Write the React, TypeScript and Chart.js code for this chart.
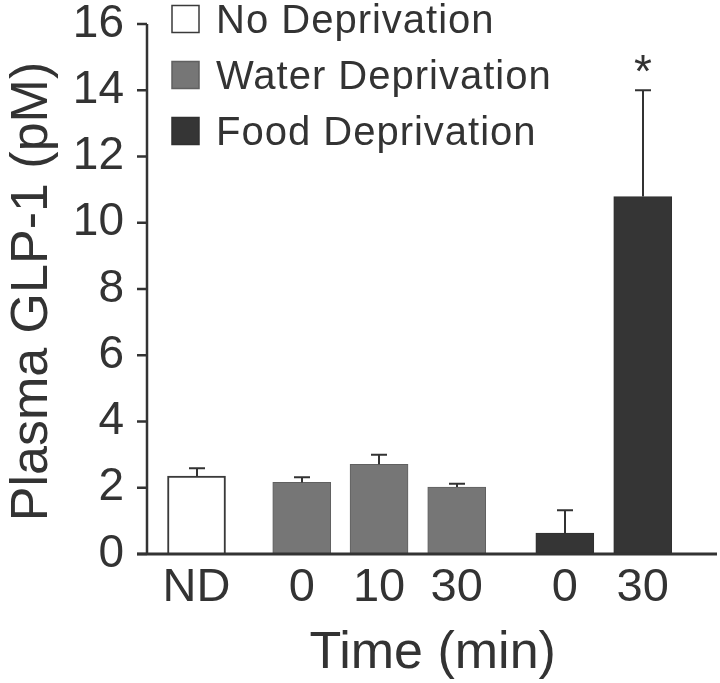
import React, { useEffect, useRef } from 'react';
import { Chart, registerables } from 'chart.js';

Chart.register(...registerables);

// ---- data ----
const categories = ['ND', '0', '10', '30', '0', '30'];
const groups = ['No Deprivation', 'Water Deprivation', 'Food Deprivation'];
const groupOfBar = [0, 1, 1, 1, 2, 2];
const xSlots = [0, 1.356, 2.352, 3.353, 4.746, 5.75];
const means = [2.35, 2.16, 2.71, 2.02, 0.63, 10.79];
const upperErr = [2.59, 2.32, 3.0, 2.12, 1.32, 14.0];
const significance = ['', '', '', '', '', '*'];
const yTicks = [0, 2, 4, 6, 8, 10, 12, 14, 16];
const yTitle = 'Plasma GLP-1 (pM)';
const xTitle = 'Time (min)';

// ---- styling ----
const X_MIN = -0.638;
const X_MAX = 6.707;
const FONT = "'Liberation Sans', Arial, Helvetica, sans-serif";
const INK = '#333333';
const groupColors = ['#ffffff', '#767676', '#353535'];
const groupBorders = ['#3a3a3a', '#606060', '#303030'];

const overlayPlugin = {
  id: 'overlay',
  afterDatasetsDraw(chart: any) {
    const { ctx, chartArea } = chart;
    const xs = chart.scales.x;
    const ys = chart.scales.y;
    ctx.save();
    ctx.strokeStyle = INK;
    ctx.fillStyle = INK;

    // error bars (upper only)
    ctx.lineWidth = 2;
    means.forEach((m, i) => {
      const px = Math.round(xs.getPixelForValue(xSlots[i]));
      const top = ys.getPixelForValue(m);
      const e = ys.getPixelForValue(upperErr[i]);
      ctx.beginPath();
      ctx.moveTo(px, top);
      ctx.lineTo(px, e);
      ctx.moveTo(px - 8, e);
      ctx.lineTo(px + 8, e);
      ctx.stroke();
      if (significance[i]) {
        ctx.font = `46px ${FONT}`;
        ctx.textAlign = 'center';
        ctx.textBaseline = 'alphabetic';
        ctx.fillText(significance[i], px, e - 3);
      }
    });

    // axes
    const left = chartArea.left;
    const y0 = ys.getPixelForValue(0);
    const yTop = ys.getPixelForValue(16);
    ctx.lineWidth = 2.5;
    ctx.beginPath();
    ctx.moveTo(left, yTop);
    ctx.lineTo(left, y0);
    yTicks.forEach((t) => {
      const py = ys.getPixelForValue(t);
      ctx.moveTo(left - 10, py);
      ctx.lineTo(left, py);
    });
    ctx.stroke();
    ctx.lineWidth = 3;
    ctx.beginPath();
    ctx.moveTo(left - 10, y0);
    ctx.lineTo(chartArea.right, y0);
    ctx.stroke();

    // legend
    groups.forEach((g, i) => {
      const cy = chartArea.top - 5 + 56 * i;
      const sx = left + 25;
      ctx.fillStyle = groupColors[i];
      ctx.fillRect(sx, cy - 13.5, 27, 27);
      ctx.strokeStyle = groupBorders[i];
      ctx.lineWidth = 1.5;
      ctx.strokeRect(sx, cy - 13.5, 27, 27);
      ctx.fillStyle = INK;
      ctx.font = `40px ${FONT}`;
      (ctx as any).letterSpacing = '1px';
      ctx.textAlign = 'left';
      ctx.textBaseline = 'alphabetic';
      ctx.fillText(g, left + 69, cy + 14);
      (ctx as any).letterSpacing = '0px';
    });

    // axis titles
    ctx.fillStyle = INK;
    ctx.font = `52px ${FONT}`;
    ctx.textAlign = 'center';
    ctx.textBaseline = 'alphabetic';
    ctx.fillText(xTitle, xs.getPixelForValue(3.043), 668);
    ctx.save();
    ctx.translate(47, (chartArea.top + chartArea.bottom) / 2 + 2.5);
    ctx.rotate(-Math.PI / 2);
    ctx.fillText(yTitle, 0, 0);
    ctx.restore();

    ctx.restore();
  },
};

export default function App() {
  const ref = useRef<HTMLCanvasElement | null>(null);
  useEffect(() => {
    if (!ref.current) return;
    const chart = new Chart(ref.current, {
      type: 'bar',
      data: {
        datasets: [
          {
            data: xSlots.map((x, i) => ({ x, y: means[i] })) as any,
            backgroundColor: groupOfBar.map((g) => groupColors[g]),
            borderColor: groupOfBar.map((g) => groupBorders[g]),
            borderWidth: groupOfBar.map((g) => (g === 0 ? 2 : 1)),
            barThickness: 58,
          },
        ],
      },
      options: {
        animation: false,
        responsive: true,
        maintainAspectRatio: false,
        layout: { padding: { top: 24, left: 0, right: 3, bottom: 0 } },
        plugins: { legend: { display: false }, tooltip: { enabled: false } },
        scales: {
          x: {
            type: 'linear',
            offset: false,
            min: X_MIN,
            max: X_MAX,
            grid: { display: false, drawTicks: false, offset: false },
            border: { display: false },
            afterBuildTicks: (s: any) => {
              s.ticks = xSlots.map((v) => ({ value: v }));
            },
            afterFit: (s: any) => {
              s.height = 129;
              s.paddingLeft = 0;
              s.paddingRight = 0;
            },
            ticks: {
              autoSkip: false,
              maxRotation: 0,
              minRotation: 0,
              padding: 6,
              color: INK,
              font: { family: FONT, size: 47 },
              callback: (_v: any, i: number) => categories[i],
            },
          },
          y: {
            min: 0,
            max: 16,
            grid: { display: false, drawTicks: false },
            border: { display: false },
            afterBuildTicks: (s: any) => {
              s.ticks = yTicks.map((v) => ({ value: v }));
            },
            afterFit: (s: any) => {
              s.width = 147;
              s.paddingTop = 0;
              s.paddingBottom = 0;
            },
            ticks: {
              padding: 23,
              color: INK,
              font: { family: FONT, size: 46 },
              callback: (v: any) => String(v),
            },
          },
        },
      } as any,
      plugins: [overlayPlugin],
    });
    return () => chart.destroy();
  }, []);
  return (
    <div style={{ position: 'absolute', left: 0, top: 0, width: 720, height: 683, background: '#fff' }}>
      <canvas ref={ref} />
    </div>
  );
}
